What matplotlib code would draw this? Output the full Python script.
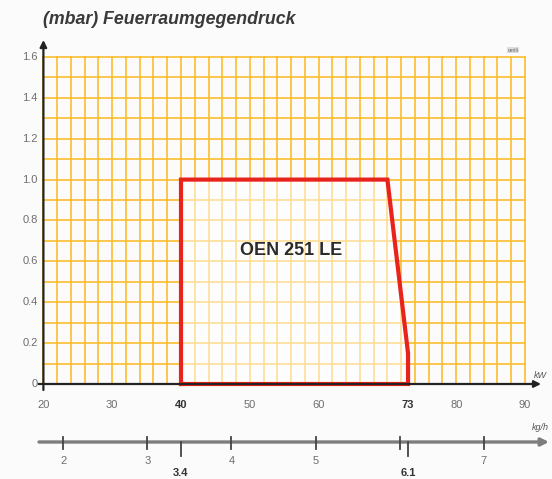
import matplotlib
matplotlib.use("Agg")
import matplotlib.pyplot as plt
import numpy as np

# ---- data ----
kw_ticks = [20, 30, 40, 50, 60, 73, 80, 90]
kw_bold = [40, 73]
mbar_ticks = [0, 0.2, 0.4, 0.6, 0.8, 1.0, 1.2, 1.4, 1.6]
mbar_labels = ["0", "0.2", "0.4", "0.6", "0.8", "1.0", "1.2", "1.4", "1.6"]
envelope_kw = [40, 40, 70, 73, 73, 40]
envelope_mbar = [0, 1.0, 1.0, 0.15, 0, 0]
kgh_ticks = [2, 3, 3.4, 4, 5, 6, 6.1, 7]
kgh_labels = ["2", "3", "3.4", "4", "5", "", "6.1", "7"]
kgh_bold = [3.4, 6.1]
title = "(mbar) Feuerraumgegendruck"
burner = "OEN 251 LE"

# kg/h <-> kW mapping (3.4 kg/h = 40 kW, 6.1 kg/h = 73 kW)
def kg2kw(k):
    return 40 + (np.asarray(k) - 3.4) * (73 - 40) / (6.1 - 3.4)

W, H = 552, 479
fig = plt.figure(figsize=(W / 100, H / 100), dpi=100, facecolor="#fbfbfb")
ax = fig.add_axes([0, 0, 1, 1])
ax.set_facecolor("#fbfbfb")
ax.axis("off")

pxk = 6.88       # px per kW
x0px = 43.4      # px of 20 kW
pxm = 204.4      # px per mbar
y0px = 384.0     # px of 0 mbar
ax.set_xlim(20 - x0px / pxk, 20 + (W - x0px) / pxk)
ax.set_ylim(-(H - y0px) / pxm, y0px / pxm)

def ypx(p):  # pixel offset -> data y
    return (y0px - p) / pxm

grid_c = "#FBBD2E"
# grid
for x in np.arange(20, 91, 2):
    ax.plot([x, x], [0, 1.6], color=grid_c, lw=1.2, zorder=1)
for y in np.arange(0, 1.61, 0.1):
    ax.plot([20, 90], [y, y], color=grid_c, lw=1.2, zorder=1)

# envelope
ax.fill(envelope_kw, envelope_mbar, color="white", alpha=0.5, lw=0, zorder=2)
ax.plot(envelope_kw, envelope_mbar, color="#E8231C", lw=3.0, zorder=4,
        solid_joinstyle="miter")
ax.text(56.0, 0.655, burner, fontsize=13, fontweight="bold", color="#2b2b2b",
        ha="center", va="center", family="Liberation Sans", zorder=5)

# axes arrows
ax.annotate("", xy=(20, ypx(40)), xytext=(20, ypx(390)),
            arrowprops=dict(arrowstyle="-|>", color="#222222", lw=1.6,
                            mutation_scale=10, shrinkA=0, shrinkB=0), zorder=6)
ax.annotate("", xy=(20 + (541 - x0px) / pxk, 0), xytext=(19.3, 0),
            arrowprops=dict(arrowstyle="-|>", color="#222222", lw=1.6,
                            mutation_scale=10, shrinkA=0, shrinkB=0), zorder=6)
ax.text(20 + (540 - x0px) / pxk, ypx(375), "kW", fontsize=6.5, style="italic",
        color="#555555", ha="center", va="center", family="Liberation Sans")

# y tick labels
for v, lab in zip(mbar_ticks, mbar_labels):
    ax.text(20 - 5.5 / pxk, v, lab, fontsize=8, color="#6e6e6e",
            ha="right", va="center", family="Liberation Sans")

# kW tick labels
for v in kw_ticks:
    bold = v in kw_bold
    ax.text(v, ypx(405), str(v), fontsize=8,
            color="#333333" if bold else "#6e6e6e",
            fontweight="bold" if bold else "normal",
            ha="center", va="center", family="Liberation Sans")

# kg/h axis
ky = ypx(442)
ax.annotate("", xy=(20 + (549 - x0px) / pxk, ky),
            xytext=(20 + (39 - x0px) / pxk, ky),
            arrowprops=dict(arrowstyle="-|>", color="#7d7d7d", lw=2.4,
                            mutation_scale=11, shrinkA=0, shrinkB=0), zorder=6)
ax.text(20 + (540 - x0px) / pxk, ypx(428), "kg/h", fontsize=6.5, style="italic",
        color="#555555", ha="center", va="center", family="Liberation Sans")
for k, lab in zip(kgh_ticks, kgh_labels):
    xk = float(kg2kw(k))
    bold = k in kgh_bold
    if bold:
        ax.plot([xk, xk], [ypx(442), ypx(456)], color="#444444", lw=1.3, zorder=7)
        ax.text(xk, ypx(473), lab, fontsize=8, fontweight="bold",
                color="#333333", ha="center", va="center", family="Liberation Sans")
    else:
        ax.plot([xk, xk], [ypx(437), ypx(449)], color="#444444", lw=1.3, zorder=7)
        ax.text(xk, ypx(461), lab, fontsize=8, color="#6e6e6e",
                ha="center", va="center", family="Liberation Sans")

# small tag top right
ax.text(20 + (513 - x0px) / pxk, ypx(50), "oertli", fontsize=3.5, color="#666666",
        ha="center", va="center", family="Liberation Sans",
        bbox=dict(boxstyle="square,pad=0.2", fc="#dddddd", ec="none"))

# title
fig.text(43 / W, 1 - 19 / H, title, fontsize=12.8, style="italic",
         fontweight="bold", color="#3a3a3a", ha="left", va="center",
         family="Liberation Sans")

fig.savefig("out.png", dpi=100, facecolor=fig.get_facecolor())
